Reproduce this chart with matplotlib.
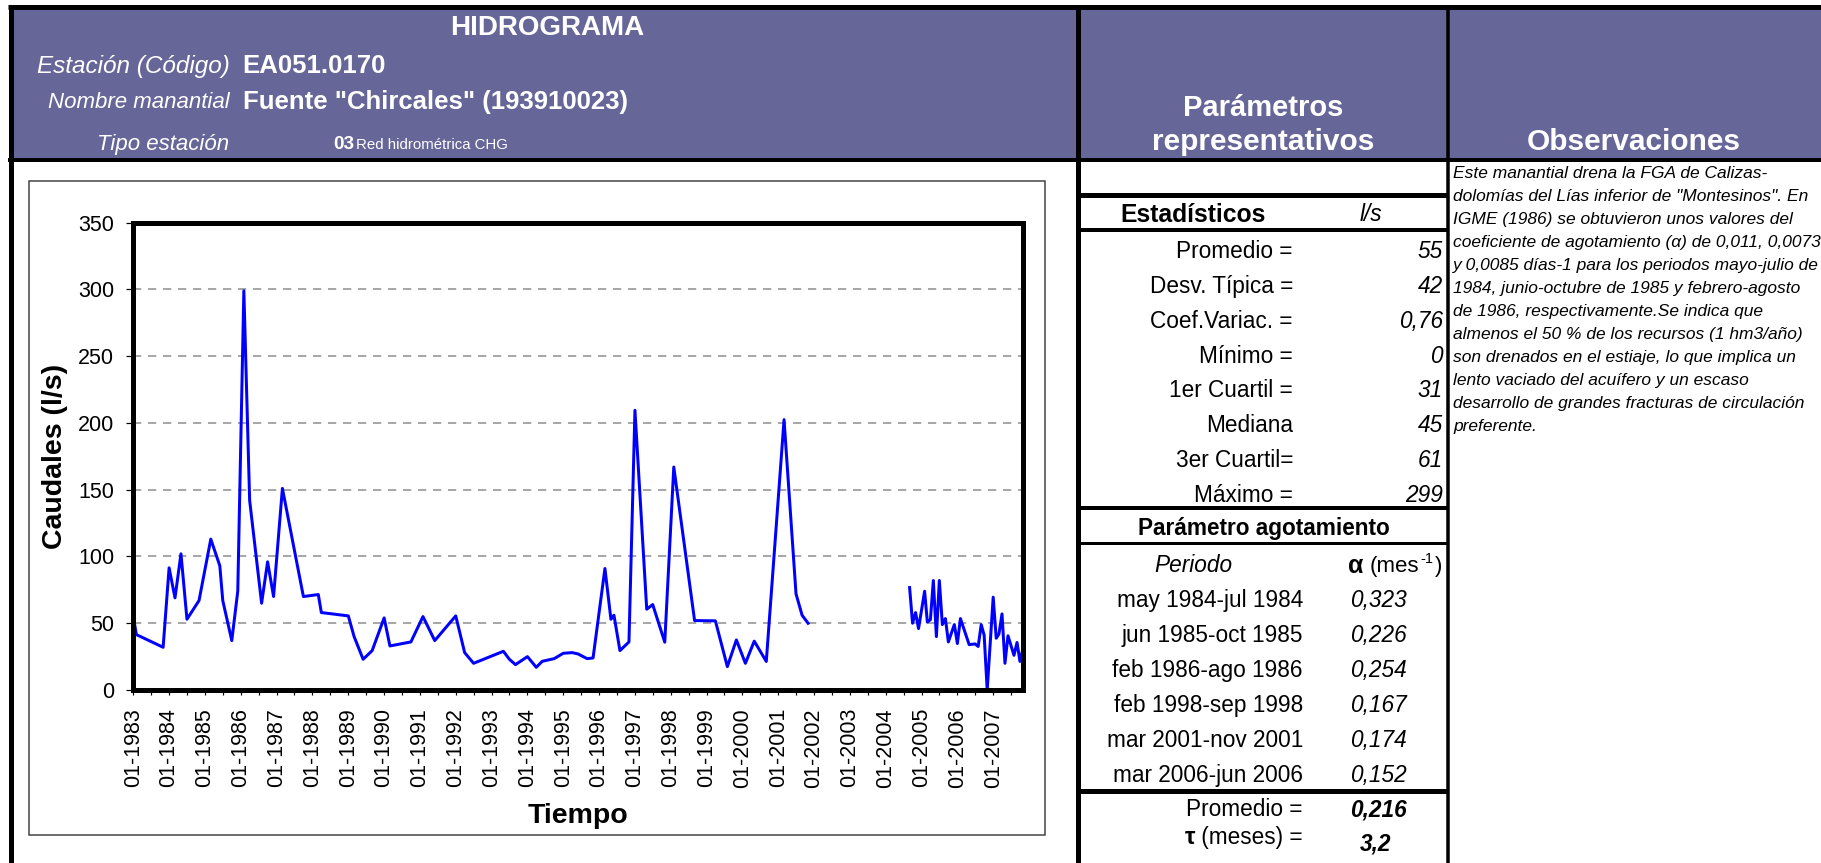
import numpy as np
import pandas as pd
import matplotlib
matplotlib.use("Agg")
import matplotlib.pyplot as plt
import matplotlib.dates as mdates
from matplotlib.patches import Rectangle
from matplotlib.ticker import MultipleLocator

# ---------------- data ----------------
dates_a = ["1983-01", "1983-02", "1983-11", "1984-01", "1984-03", "1984-05", "1984-07", "1984-11",
           "1985-03", "1985-06", "1985-07", "1985-10", "1985-12", "1986-02", "1986-04", "1986-08",
           "1986-10", "1986-12", "1987-03", "1987-10", "1988-03", "1988-04", "1989-01", "1989-03",
           "1989-06", "1989-09", "1990-01", "1990-03", "1990-10", "1991-02", "1991-06", "1992-01",
           "1992-04", "1992-07", "1993-05", "1993-07", "1993-09", "1994-01", "1994-04", "1994-06",
           "1994-10", "1995-01", "1995-04", "1995-06", "1995-09", "1995-11", "1996-03", "1996-05",
           "1996-06", "1996-08", "1996-11", "1997-01", "1997-05", "1997-07", "1997-11", "1998-02",
           "1998-09", "1999-04", "1999-08", "1999-11", "2000-02", "2000-05", "2000-09", "2001-03",
           "2001-07", "2001-09", "2001-11"]
flow_a = [55, 41.5, 32, 91.5, 69, 102, 53, 67,
          113, 93, 67, 37, 74, 299, 142, 65,
          96, 70, 151, 70, 71.5, 58, 55.5, 40,
          23, 29.5, 54, 33, 36, 55, 37, 55.5,
          28, 20, 29, 23, 19, 25, 17, 21.5,
          23.5, 27.5, 28, 27, 23.5, 24, 91, 53,
          56, 29.5, 36, 209.5, 60.5, 64, 35.8, 167,
          52, 51.8, 17.5, 37.5, 20, 36.6, 21.4, 202.5,
          72, 56, 50]
dates_b = ["2004-09", "2004-10", "2004-11", "2004-12", "2005-02", "2005-03", "2005-04", "2005-05",
           "2005-06", "2005-07", "2005-08", "2005-09", "2005-10", "2005-12", "2006-01", "2006-02",
           "2006-05", "2006-07", "2006-08", "2006-09", "2006-10", "2006-11", "2007-01", "2007-02",
           "2007-03", "2007-04", "2007-05", "2007-06", "2007-08", "2007-09", "2007-10", "2007-11"]
flow_b = [76.7, 50, 58, 46, 74, 50.8, 52.7, 82,
          40, 82, 49, 53.5, 36, 49, 34.8, 53.5,
          34, 34.5, 32.6, 49, 41, 0, 69.5, 38.8,
          42, 57, 20, 40.6, 26, 35.6, 21.4, 31]
y_max = 350
y_step = 50

stats_labels = ["Promedio =", "Desv. Típica =", "Coef.Variac. =", "Mínimo =",
                "1er Cuartil =", "Mediana", "3er Cuartil=", "Máximo ="]
stats_values = ["55", "42", "0,76", "0", "31", "45", "61", "299"]
periods = ["may 1984-jul 1984", "jun 1985-oct 1985", "feb 1986-ago 1986",
           "feb 1998-sep 1998", "mar 2001-nov 2001", "mar 2006-jun 2006"]
alphas = ["0,323", "0,226", "0,254", "0,167", "0,174", "0,152"]
alpha_mean = "0,216"
tau_value = "3,2"

obs_lines = [
    "Este manantial drena la FGA de Calizas-",
    "dolomías del Lías inferior de \"Montesinos\". En",
    "IGME (1986) se obtuvieron unos valores del",
    "coeficiente de agotamiento (α) de 0,011, 0,0073",
    "y 0,0085 días-1 para los periodos mayo-julio de",
    "1984, junio-octubre de 1985 y febrero-agosto",
    "de 1986, respectivamente.Se indica que",
    "almenos el 50 % de los recursos (1 hm3/año)",
    "son drenados en el estiaje, lo que implica un",
    "lento vaciado del acuífero y un escaso",
    "desarrollo de grandes fracturas de circulación",
    "preferente.",
]

# ---------------- style ----------------
plt.rcParams["font.family"] = ["Liberation Sans", "DejaVu Sans"]

W, H = 1821, 863
DPI = 100
PX = 72.0 / DPI  # points per pixel
PURPLE = "#666699"

fig = plt.figure(figsize=(W / DPI, H / DPI), dpi=DPI)
fig.patch.set_facecolor("white")
renderer = fig.canvas.get_renderer()

bg = fig.add_axes([0, 0, 1, 1], zorder=0)
bg.set_xlim(0, W)
bg.set_ylim(H, 0)
bg.axis("off")


def hline(y, x0, x1, px, color="black"):
    bg.plot([x0, x1], [y, y], color=color, lw=px * PX, solid_capstyle="butt", zorder=5)


def vline(x, y0, y1, px, color="black"):
    bg.plot([x, x], [y0, y1], color=color, lw=px * PX, solid_capstyle="butt", zorder=5)


def baseline(yc, size):
    return yc + 0.358 * size / PX


def txt(x, yc, s, size, ha="left", **kw):
    # yc: visual centre of capitals (pixels); text placed on its baseline
    return bg.text(x, baseline(yc, size), s, fontsize=size, ha=ha, va="baseline", zorder=6, **kw)


def width_px(t):
    return t.get_window_extent(renderer).width


# header band
bg.add_patch(Rectangle((11, 7), W - 11, 153, facecolor=PURPLE, edgecolor="none", zorder=1))
hline(7.5, 8, W, 5)
hline(160, 8, W, 4)
vline(11, 5, H, 5)
vline(1078, 5, H, 5)
vline(1447.5, 5, H, 3.5)

# header texts
txt(547, 25, "HIDROGRAMA", 20, ha="center", color="white", fontweight="bold")
txt(230, 64, "Estación (Código)", 17.5, ha="right", color="white", style="italic")
txt(242, 64, "EA051.0170", 18.5, color="white", fontweight="bold")
txt(230, 100, "Nombre manantial", 16, ha="right", color="white", style="italic")
txt(243, 100, "Fuente \"Chircales\" (193910023)", 18.5, color="white", fontweight="bold")
txt(229, 142, "Tipo estación", 16, ha="right", color="white", style="italic")
txt(333, 142, "03", 13.6, color="white", fontweight="bold")
bg.text(356, baseline(142, 13.6), "Red hidrométrica CHG", fontsize=10.8, color="white",
        va="baseline", zorder=6)
txt(1263, 106, "Parámetros", 21, ha="center", color="white", fontweight="bold")
txt(1263, 139, "representativos", 21.5, ha="center", color="white", fontweight="bold")
txt(1634, 139, "Observaciones", 21.5, ha="center", color="white", fontweight="bold")

# parameters column
XL, XR = 1078, 1447.5
hline(195, XL, XR, 5)
hline(230, XL, XR, 4)
hline(508, XL, XR, 4)
hline(543, XL, XR, 3)
hline(791, XL, XR, 5)

txt(1193, 213, "Estadísticos", 17.8, ha="center", fontweight="bold")
txt(1371, 213, "l/s", 16.3, ha="center", style="italic")
for i, (lab, val) in enumerate(zip(stats_labels, stats_values)):
    yc = 250 + 34.8 * i
    txt(1293, yc, lab, 16.3, ha="right")
    txt(1443, yc, val, 16.3, ha="right", style="italic")

txt(1264, 527, "Parámetro agotamiento", 16.3, ha="center", fontweight="bold")
txt(1193, 564, "Periodo", 16.3, ha="center", style="italic")
txt(1348, 564, "α", 18, fontweight="bold")
# "(mes^-1)" built from pieces
xc = 1370
t1 = txt(xc, 564, "(mes", 16)
xc += width_px(t1) + 1
t2 = bg.text(xc, baseline(564, 16) - 9, "-1", fontsize=10.5, va="baseline", zorder=6)
xc += width_px(t2) + 1
txt(xc, 564, ")", 16)

for i, (per, a) in enumerate(zip(periods, alphas)):
    yc = 599 + 35 * i
    txt(1303, yc, per, 16.3, ha="right")
    txt(1350, yc, a, 16.3, style="italic")
txt(1303, 808, "Promedio =", 16.3, ha="right")
txt(1350, 808, alpha_mean, 16.3, style="italic", fontweight="bold")
t_me = txt(1303, 836, " (meses) =", 16.3, ha="right")
txt(1303 - width_px(t_me), 836, "τ", 17, ha="right", fontweight="bold")
txt(1376, 842, tau_value, 16.3, ha="center", style="italic", fontweight="bold")

# observations column
for i, line in enumerate(obs_lines):
    txt(1453, 172 + 23.0 * i, line, 12.5, style="italic")

# chart outer frame
bg.add_patch(Rectangle((29, 181), 1045 - 29, 835 - 181, facecolor="none",
                       edgecolor="#404040", lw=1.5 * PX, zorder=2))

# ---------------- chart ----------------
x0p, x1p, y0p, y1p = 133.3, 1023, 222.7, 690
ax = fig.add_axes([x0p / W, 1 - y1p / H, (x1p - x0p) / W, (y1p - y0p) / H], zorder=3)
ax.set_facecolor("white")
da = pd.to_datetime(dates_a)
db = pd.to_datetime(dates_b)
ax.plot(da, flow_a, color="#0000FF", lw=3 * PX, zorder=3)
ax.plot(db, flow_b, color="#0000FF", lw=3 * PX, zorder=3)
ax.set_ylim(0, y_max)
ax.set_xlim(da[0], db[-1])
ax.yaxis.set_major_locator(MultipleLocator(y_step))
ax.xaxis.set_major_locator(mdates.YearLocator())
ax.xaxis.set_minor_locator(mdates.MonthLocator(bymonth=7))
ax.xaxis.set_major_formatter(mdates.DateFormatter("%m-%Y"))
ax.grid(axis="y", which="major", linestyle=(0, (5.5, 4.5)), color="#8c8c8c", lw=1.5 * PX, zorder=1)
for sp in ax.spines.values():
    sp.set_linewidth(5 * PX)
    sp.set_color("black")
    sp.set_zorder(4)
ax.tick_params(axis="y", which="major", direction="out", length=7 * PX, width=1.2 * PX,
               labelsize=15.5, pad=12 * PX)
ax.tick_params(axis="x", which="both", direction="out", length=5 * PX, width=1.2 * PX,
               labelsize=15.5, pad=13 * PX, labelrotation=90)
for lab in ax.get_xticklabels():
    lab.set_va("top")

txt(578, 813, "Tiempo", 20.5, ha="center", fontweight="bold")
bg.text(55, 456, "Caudales (l/s)", fontsize=20.5, fontweight="bold", rotation=90,
        ha="center", va="center", zorder=6)

fig.savefig("out.png", dpi=DPI)
